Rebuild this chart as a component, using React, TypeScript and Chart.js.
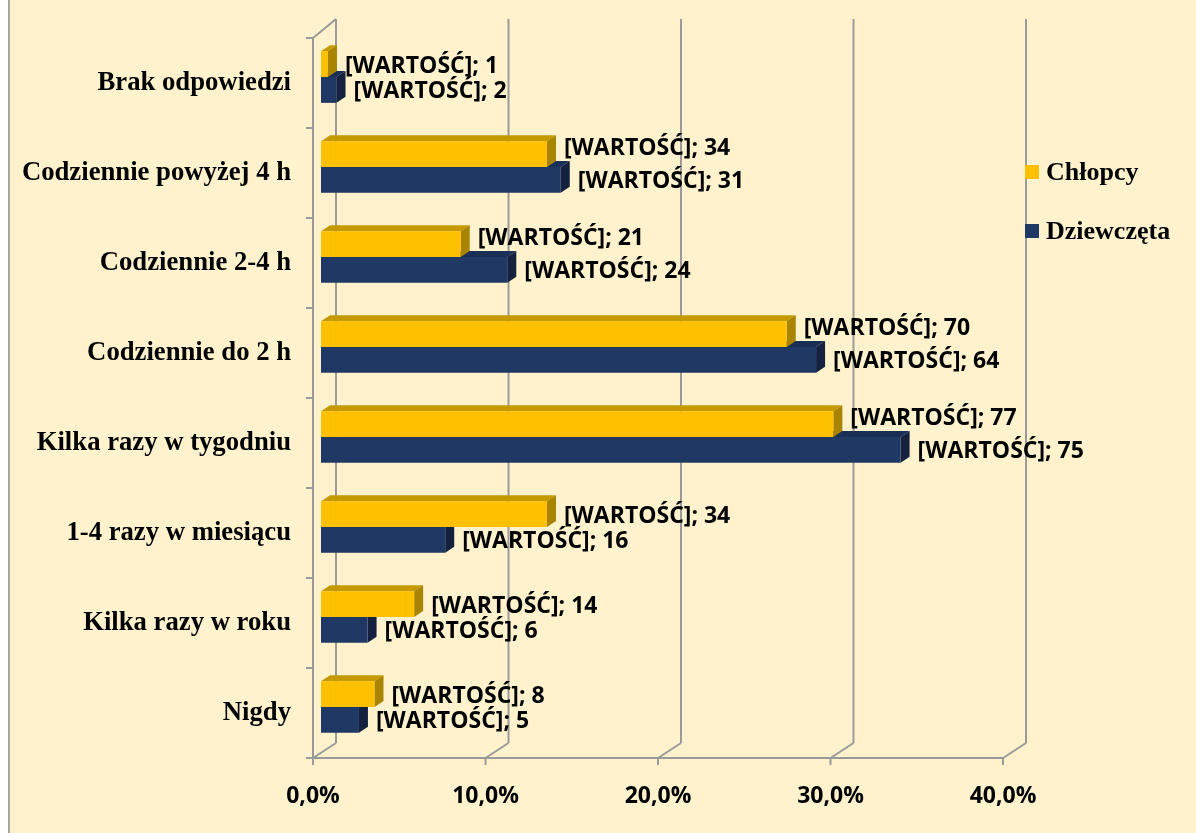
import React, { useEffect, useRef } from 'react';
import { Chart, registerables } from 'chart.js';

Chart.register(...registerables);

// ---- data ----
const categories = [
  'Brak odpowiedzi',
  'Codziennie powyżej 4 h',
  'Codziennie 2-4 h',
  'Codziennie do 2 h',
  'Kilka razy w tygodniu',
  '1-4 razy w miesiącu',
  'Kilka razy w roku',
  'Nigdy',
];
const seriesNames = ['Chłopcy', 'Dziewczęta'];
const chlopcyPct = [0.4, 13.1, 8.1, 27.0, 29.7, 13.1, 5.4, 3.1];
const dziewczetaPct = [0.9, 13.9, 10.8, 28.7, 33.6, 7.2, 2.7, 2.2];
const chlopcyCount = [1, 34, 21, 70, 77, 34, 14, 8];
const dziewczetaCount = [2, 31, 24, 64, 75, 16, 6, 5];
const xTicks = [0, 10, 20, 30, 40];
const labelPrefix = '[WARTOŚĆ]';

// ---- style ----
const W = 1196;
const H = 833;
const BG = '#FFF2CC';
const FRAME = '#A6A6A6';
const GRID = '#9A9A9A';
const FRONT_COLORS = ['#FFC000', '#203864'];
const TOP_COLORS = ['#C49A00', '#1A2F55'];
const SIDE_COLORS = ['#A98400', '#14223F'];
const BAR_SHIFT = { x: 8, y: -6 };
const DEPTH = { x: 9, y: -6 };
const WALL = { x: 23, topY: -19, bottomY: -15 };
const SERIF = "'Liberation Serif', 'Times New Roman', serif";
const SANS = "'Open Sans', 'Noto Sans', sans-serif";

const counts = [chlopcyCount, dziewczetaCount];

const line = (ctx: CanvasRenderingContext2D, x1: number, y1: number, x2: number, y2: number) => {
  ctx.beginPath();
  ctx.moveTo(x1, y1);
  ctx.lineTo(x2, y2);
  ctx.stroke();
};

const scenePlugin = {
  id: 'scene3d',
  beforeDraw(chart: any) {
    const ctx = chart.ctx as CanvasRenderingContext2D;
    ctx.save();
    ctx.fillStyle = '#FFFFFF';
    ctx.fillRect(0, 0, W, H);
    ctx.fillStyle = BG;
    ctx.fillRect(10, 0, W - 10, H);
    ctx.fillStyle = FRAME;
    ctx.fillRect(8, 0, 2, H);
    ctx.restore();
  },
  beforeDatasetsDraw(chart: any) {
    const ctx = chart.ctx as CanvasRenderingContext2D;
    const a = chart.chartArea;
    const xs = chart.scales.x;
    const ys = chart.scales.y;
    const backY = (yf: number) =>
      yf + WALL.topY + ((yf - a.top) / (a.bottom - a.top)) * (WALL.bottomY - WALL.topY);
    ctx.save();
    ctx.strokeStyle = GRID;
    ctx.lineWidth = 2;
    for (const t of xTicks) {
      const xf = xs.getPixelForValue(t);
      const xb = xf + WALL.x;
      line(ctx, xb, backY(a.top), xb, backY(a.bottom));
      line(ctx, xb, backY(a.bottom), xf, a.bottom);
      line(ctx, xf, a.bottom, xf, a.bottom + 7);
    }
    line(ctx, a.left - 1, a.bottom, xs.getPixelForValue(xTicks[xTicks.length - 1]), a.bottom);
    line(ctx, a.left, a.top, a.left, a.bottom);
    line(ctx, a.left, a.top, a.left + WALL.x, backY(a.top));
    for (let k = 0; k <= categories.length; k++) {
      const yk = ys.getPixelForValue(k - 0.5);
      line(ctx, a.left - 7, yk, a.left, yk);
    }
    ctx.restore();
    ctx.save();
    ctx.translate(BAR_SHIFT.x, BAR_SHIFT.y);
  },
  beforeDatasetDraw(chart: any, args: any) {
    const ctx = chart.ctx as CanvasRenderingContext2D;
    const di = args.index;
    for (const el of args.meta.data) {
      const p = el.getProps(['x', 'y', 'base', 'height'], true);
      const left = Math.min(p.base, p.x);
      const right = Math.max(p.base, p.x);
      const top = p.y - p.height / 2;
      const bottom = p.y + p.height / 2;
      ctx.fillStyle = TOP_COLORS[di];
      ctx.beginPath();
      ctx.moveTo(left, top);
      ctx.lineTo(right, top);
      ctx.lineTo(right + DEPTH.x, top + DEPTH.y);
      ctx.lineTo(left + DEPTH.x, top + DEPTH.y);
      ctx.closePath();
      ctx.fill();
      ctx.fillStyle = SIDE_COLORS[di];
      ctx.beginPath();
      ctx.moveTo(right, top);
      ctx.lineTo(right + DEPTH.x, top + DEPTH.y);
      ctx.lineTo(right + DEPTH.x, bottom + DEPTH.y);
      ctx.lineTo(right, bottom);
      ctx.closePath();
      ctx.fill();
    }
  },
  afterDatasetsDraw(chart: any) {
    const ctx = chart.ctx as CanvasRenderingContext2D;
    ctx.restore();
    ctx.save();
    ctx.font = `bold 23px ${SANS}`;
    ctx.fillStyle = '#000000';
    ctx.textAlign = 'left';
    ctx.textBaseline = 'middle';
    const metas = [chart.getDatasetMeta(0), chart.getDatasetMeta(1)];
    metas.forEach((meta: any, di: number) => {
      meta.data.forEach((el: any, i: number) => {
        const p = el.getProps(['x', 'y'], true);
        const xEnd = p.x + BAR_SHIFT.x;
        const lx = xEnd + 17;
        let ly = p.y + BAR_SHIFT.y + 2;
        if (di === 0) {
          const other = metas[1].data[i].getProps(['x'], true).x + BAR_SHIFT.x + DEPTH.x;
          if (other > lx + 4) ly -= 8;
        }
        ctx.fillText(`${labelPrefix}; ${counts[di][i]}`, lx, ly);
      });
    });
    ctx.restore();
  },
  afterDraw(chart: any) {
    const ctx = chart.ctx as CanvasRenderingContext2D;
    ctx.save();
    ctx.font = `bold 26px ${SERIF}`;
    ctx.textAlign = 'left';
    ctx.textBaseline = 'middle';
    const centers = [172, 231];
    seriesNames.forEach((name, i) => {
      ctx.fillStyle = FRONT_COLORS[i];
      ctx.fillRect(1025, centers[i] - 7, 14, 14);
      ctx.fillStyle = '#000000';
      ctx.fillText(name, 1046, centers[i] + 1);
    });
    ctx.restore();
  },
};

export default function App() {
  const ref = useRef<HTMLCanvasElement | null>(null);
  useEffect(() => {
    if (!ref.current) return;
    const chart = new Chart(ref.current, {
      type: 'bar',
      data: {
        labels: categories,
        datasets: [
          {
            label: seriesNames[0],
            data: chlopcyPct,
            backgroundColor: FRONT_COLORS[0],
            borderWidth: 0,
            categoryPercentage: 0.574,
            barPercentage: 1,
            clip: false as any,
          },
          {
            label: seriesNames[1],
            data: dziewczetaPct,
            backgroundColor: FRONT_COLORS[1],
            borderWidth: 0,
            categoryPercentage: 0.574,
            barPercentage: 1,
            clip: false as any,
          },
        ],
      },
      options: {
        indexAxis: 'y',
        responsive: false,
        animation: false,
        layout: { padding: { left: 0, top: 33, right: W - 1003, bottom: 0 } },
        plugins: { legend: { display: false }, tooltip: { enabled: false } },
        scales: {
          x: {
            min: 0,
            max: 40,
            grid: { display: false, drawTicks: false },
            border: { display: false },
            ticks: {
              stepSize: 10,
              padding: 25,
              color: '#000000',
              font: { family: SANS, size: 23, weight: 'bold' },
              callback: (v: any) => Number(v).toFixed(1).replace('.', ',') + '%',
            },
            afterFit: (s: any) => {
              s.height = H - 758;
            },
          },
          y: {
            grid: { display: false, drawTicks: false },
            border: { display: false },
            ticks: {
              padding: 22,
              color: '#000000',
              font: { family: SERIF, size: 26.7, weight: 'bold' },
            },
            afterFit: (s: any) => {
              s.width = 313;
            },
          },
        },
      },
      plugins: [scenePlugin],
    });
    return () => chart.destroy();
  }, []);
  return (
    <div style={{ position: 'absolute', left: 0, top: 0, width: W, height: H, background: '#fff' }}>
      <canvas ref={ref} width={W} height={H} style={{ display: 'block', width: W, height: H }} />
    </div>
  );
}
